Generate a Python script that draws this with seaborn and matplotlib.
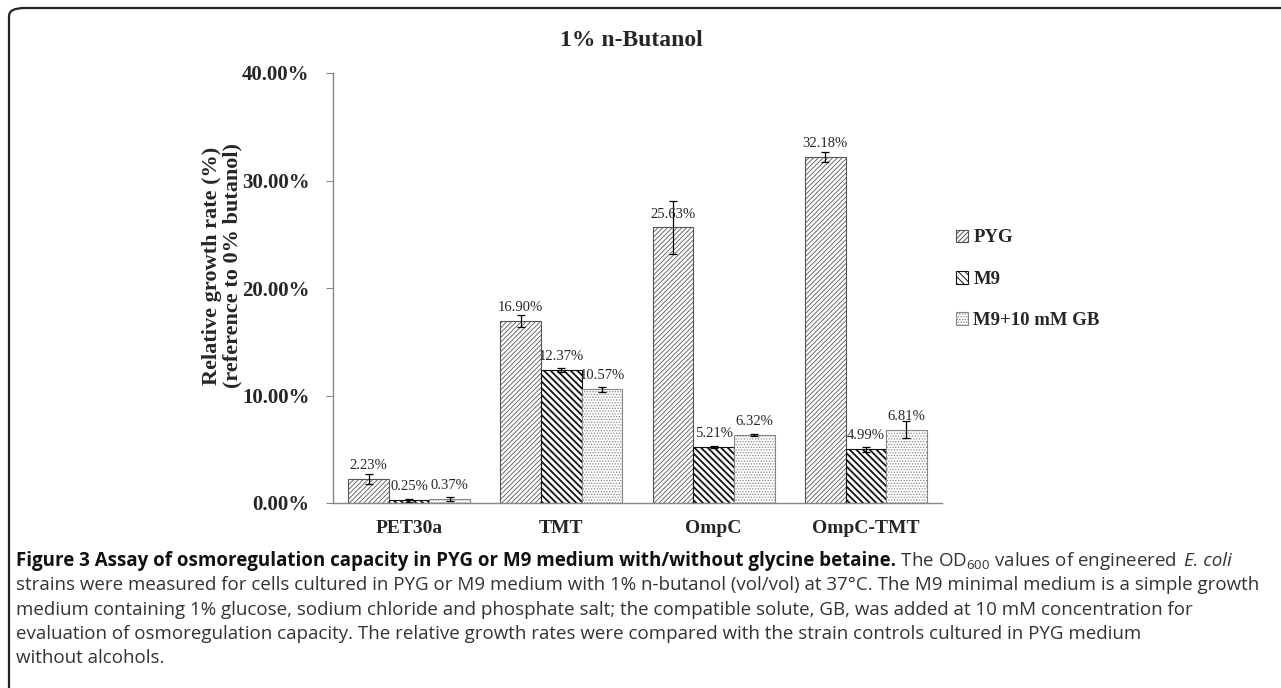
import numpy as np
import pandas as pd
import seaborn as sns
import matplotlib.pyplot as plt
from matplotlib.patches import FancyBboxPatch, Patch

# values
strains = ['PET30a', 'TMT', 'OmpC', 'OmpC-TMT']
media = ['PYG', 'M9', 'M9+10 mM GB']
pyg = [2.23, 16.90, 25.63, 32.18]
m9 = [0.25, 12.37, 5.21, 4.99]
m9_gb = [0.37, 10.57, 6.32, 6.81]
pyg_err = [0.45, 0.55, 2.45, 0.45]
m9_err = [0.15, 0.2, 0.1, 0.2]
m9_gb_err = [0.15, 0.2, 0.1, 0.8]
y_ticks = [0, 10, 20, 30, 40]

df = pd.DataFrame({
    'strain': strains * 3,
    'medium': [m for m in media for _ in strains],
    'rate': pyg + m9 + m9_gb,
    'err': pyg_err + m9_err + m9_gb_err,
})

sns.set_style('white')
plt.rcParams['font.family'] = ['Liberation Serif', 'DejaVu Serif']
plt.rcParams['hatch.linewidth'] = 0.7

W, H = 1281, 688
fig = plt.figure(figsize=(W / 100, H / 100), dpi=100)
ax = fig.add_axes([333 / W, 185 / H, 609 / W, 430 / H])

sns.barplot(data=df, x='strain', y='rate', hue='medium', order=strains,
            hue_order=media, errorbar=None, width=0.8, ax=ax, legend=False)

hatches = ['///////', '\\\\\\\\\\', '......']
edges = ['#555555', '#111111', '#888888']
hatch_lw = [0.6, 1.3, 0.6]
for cont, h, ec, hl, med in zip(ax.containers, hatches, edges, hatch_lw, media):
    sub = df[df['medium'] == med].set_index('strain').loc[strains]
    for bar, val, er in zip(cont, sub['rate'], sub['err']):
        bar.set_facecolor('white')
        bar.set_edgecolor(ec)
        bar.set_hatch(h)
        bar.set_linewidth(0.8)
        try:
            bar.set_hatch_linewidth(hl)
        except AttributeError:
            pass
        cx = bar.get_x() + bar.get_width() / 2
        ax.errorbar(cx, val, yerr=er, color='black', lw=0.9, capsize=3,
                    capthick=0.9)
        ax.annotate(f'{val:.2f}%', (cx, val), xytext=(0, 5),
                    textcoords='offset points', ha='center', va='bottom',
                    fontsize=10.5)

ax.set_ylim(0, 40)
ax.set_xlim(-0.5, 3.5)
ax.set_yticks(y_ticks)
ax.set_yticklabels([f'{v:.2f}%' for v in y_ticks], fontsize=15,
                   fontweight='bold')
ax.set_xticks(range(len(strains)))
ax.set_xticklabels(strains, fontsize=14, fontweight='bold')
ax.tick_params(axis='y', direction='out', length=5, width=0.8,
               color='#888888', left=True, pad=12)
ax.tick_params(axis='x', length=0, pad=12)
for s in ['top', 'right']:
    ax.spines[s].set_visible(False)
for s in ['left', 'bottom']:
    ax.spines[s].set_color('#888888')
    ax.spines[s].set_linewidth(1.0)
ax.set_xlabel('')
ax.set_ylabel('')
fig.text(222 / W, 1 - 266 / H,
         'Relative growth rate (%)\n(reference to 0% butanol)',
         rotation=90, ha='center', va='center', multialignment='center',
         fontsize=16, fontweight='bold', linespacing=1.0)
fig.text(631 / W, 1 - 40 / H, '1% n-Butanol', ha='center', va='center',
         fontsize=17, fontweight='bold')

handles = [Patch(facecolor='white', edgecolor=ec, hatch=h, lw=0.8)
           for h, ec in zip(hatches, edges)]
fig.legend(handles, media, loc='upper left', bbox_to_anchor=(948 / W, 1 - 222 / H),
           frameon=False, prop={'weight': 'bold', 'size': 13.5},
           handlelength=0.65, handleheight=0.65, handletextpad=0.3,
           labelspacing=1.3, borderaxespad=0)

# frame round the figure; runs off the right and bottom edges
frame = FancyBboxPatch((9 / W, -20 / H), 1300 / W, 700 / H,
                       boxstyle='round,pad=0,rounding_size=0.012',
                       transform=fig.transFigure, fill=False,
                       edgecolor='#222222', lw=1.6)
fig.patches.append(frame)

# caption, drawn run by run
cap = ['Open Sans', 'DejaVu Sans']
cap_size = 13.5
lines = [
    [('Figure 3 Assay of osmoregulation capacity in PYG or M9 medium '
      'with/without glycine betaine.', 'bold'),
     (' The OD$_{600}$ values of engineered ', 'normal'),
     ('E. coli', 'italic')],
    [('strains were measured for cells cultured in PYG or M9 medium with 1% '
      'n-butanol (vol/vol) at 37\u00b0C. The M9 minimal medium is a simple '
      'growth', 'normal')],
    [('medium containing 1% glucose, sodium chloride and phosphate salt; the '
      'compatible solute, GB, was added at 10 mM concentration for', 'normal')],
    [('evaluation of osmoregulation capacity. The relative growth rates were '
      'compared with the strain controls cultured in PYG medium', 'normal')],
    [('without alcohols.', 'normal')],
]
plt.rcParams['mathtext.fontset'] = 'custom'
plt.rcParams['mathtext.rm'] = 'Open Sans'
renderer = fig.canvas.get_renderer()
y0 = 561
for i, runs in enumerate(lines):
    x = 16
    ypix = H - (y0 + i * 24.3)
    for txt, style in runs:
        kw = {}
        if style == 'bold':
            kw = {'weight': 'bold'}
        elif style == 'italic':
            kw = {'style': 'italic'}
        t = fig.text(x / W, ypix / H, txt, fontsize=cap_size, family=cap,
                     va='center', ha='left',
                     color='#111111' if style == 'bold' else '#333333', **kw)
        x += t.get_window_extent(renderer=renderer).width
        if txt.endswith(' '):
            x += 5

fig.savefig('out.png', dpi=100)
